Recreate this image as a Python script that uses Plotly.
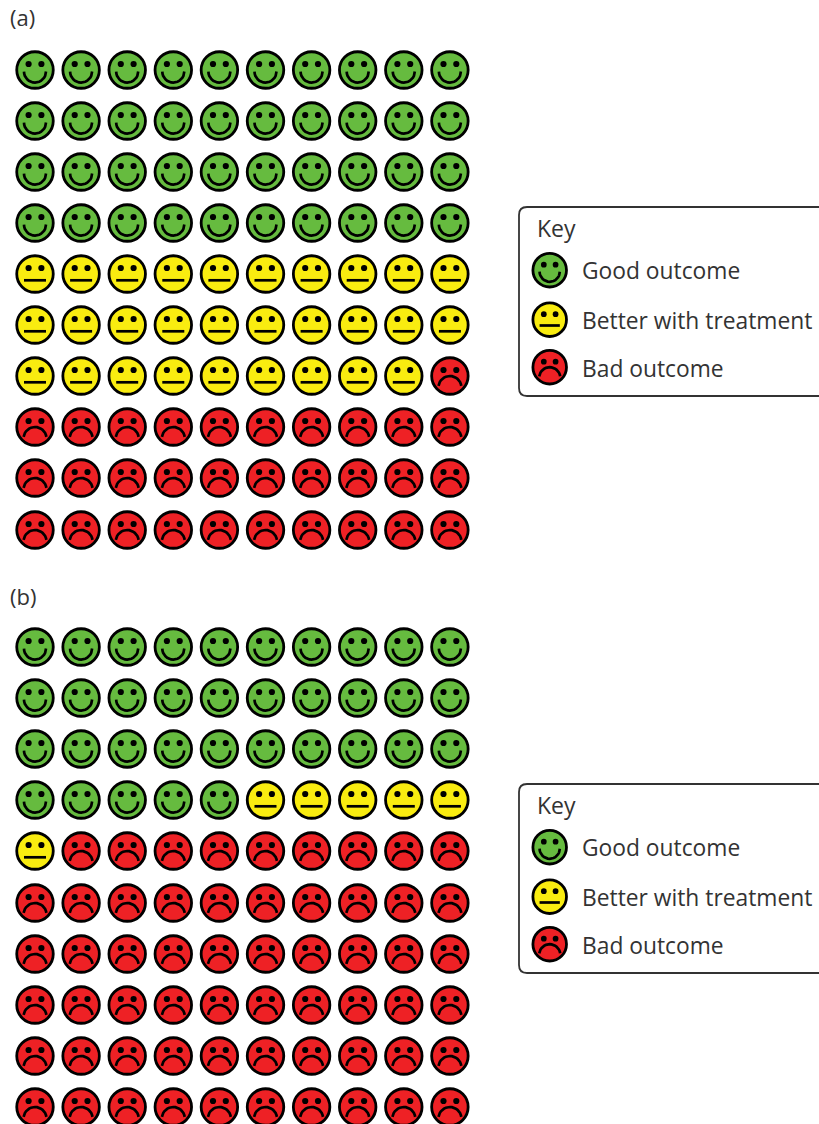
import math
import plotly.graph_objects as go

panels = ["(a)", "(b)"]
outcomes = ["Good outcome", "Better with treatment", "Bad outcome"]
colours = ["#66bb3f", "#f9ec10", "#ee2125"]
counts_a = [40, 29, 31]
counts_b = [35, 6, 59]
key_title = "Key"

W, H = 819, 1124
COLS = 10
X0, DX = 35.0, 46.1
ROW_Y = [
    [70, 121, 172, 223, 274, 325, 376, 427, 478, 530],
    [647, 698, 749, 800, 851, 903, 954, 1005, 1056, 1107],
]
LABEL_Y = [17, 596]
KEY_TOP = [207, 784]
KEY_OFF = [63.5, 113, 160.5]
KEY_TEXT_OFF = [63, 113, 161]

INK = "#000000"
TEXT = "#333333"
FONT = "Open Sans"


def arc(cx, cy, r, a0, a1):
    n = 16
    xs, ys = [], []
    for i in range(n + 1):
        a = math.radians(a0 + (a1 - a0) * i / n)
        xs.append(cx + r * math.cos(a))
        ys.append(cy + r * math.sin(a))
    return xs, ys


def mouth(kind, cx, cy, s):
    if kind == 0:
        return arc(cx, cy + 1.6 * s, 11 * s, 0, 180)
    if kind == 1:
        return [cx - 11 * s, cx + 11 * s], [cy + 6.3 * s, cy + 6.3 * s]
    return arc(cx, cy + 11.5 * s, 11.5 * s, 188, 352)


def add_faces(fig, kind, pts, s):
    if not pts:
        return
    size = 36.5 * s
    fig.add_trace(go.Scatter(
        x=[p[0] for p in pts], y=[p[1] for p in pts], mode="markers",
        marker=dict(symbol="circle", size=size, color=colours[kind],
                    line=dict(color=INK, width=2.8)),
        hoverinfo="skip", showlegend=False))
    ex, ey = [], []
    for cx, cy in pts:
        ex += [cx - 6.4 * s, cx + 6.4 * s]
        ey += [cy - 6 * s, cy - 6 * s]
    fig.add_trace(go.Scatter(
        x=ex, y=ey, mode="markers",
        marker=dict(symbol="circle", size=6.2 * s, color=INK, line=dict(width=0)),
        hoverinfo="skip", showlegend=False))
    mx, my = [], []
    for cx, cy in pts:
        xs, ys = mouth(kind, cx, cy, s)
        mx += xs + [None]
        my += ys + [None]
    fig.add_trace(go.Scatter(
        x=mx, y=my, mode="lines", line=dict(color=INK, width=2.7),
        hoverinfo="skip", showlegend=False))


fig = go.Figure()
shapes, notes = [], []


def note(x, y, text, size):
    notes.append(dict(x=x, y=y, text=text, xref="x", yref="y", xanchor="left",
                      yanchor="middle", showarrow=False,
                      font=dict(family=FONT, size=size, color=TEXT)))


for p, counts in enumerate([counts_a, counts_b]):
    seq = []
    for k, c in enumerate(counts):
        seq += [k] * c
    groups = {0: [], 1: [], 2: []}
    for i, k in enumerate(seq):
        groups[k].append((X0 + DX * (i % COLS), ROW_Y[p][i // COLS]))
    for k in groups:
        add_faces(fig, k, groups[k], 1.0)
    note(8, LABEL_Y[p], panels[p], 22)

    t = KEY_TOP[p]
    b = t + 189
    L, R, rad = 519, 835, 8
    shapes.append(dict(
        type="path", xref="x", yref="y",
        path=(f"M {R} {t} L {L+rad} {t} Q {L} {t} {L} {t+rad} L {L} {b-rad} "
              f"Q {L} {b} {L+rad} {b} L {R} {b}"),
        line=dict(color="#333333", width=1.8), fillcolor="rgba(0,0,0,0)"))
    note(535, t + 21, key_title, 23)
    for k, name in enumerate(outcomes):
        add_faces(fig, k, [(549.7, t + KEY_OFF[k] - 0.3)], 0.92)
        note(580, t + KEY_TEXT_OFF[k], name, 22.8)

fig.update_layout(
    width=W, height=H, margin=dict(l=0, r=0, t=0, b=0),
    paper_bgcolor="white", plot_bgcolor="white", showlegend=False,
    xaxis=dict(range=[0, W], visible=False, fixedrange=True),
    yaxis=dict(range=[H, 0], visible=False, fixedrange=True),
    shapes=shapes, annotations=notes)

fig.write_html(
    "out.html",
    config=dict(displayModeBar=False),
    post_script="document.documentElement.style.overflow='hidden';document.body.style.margin='0';",
)
